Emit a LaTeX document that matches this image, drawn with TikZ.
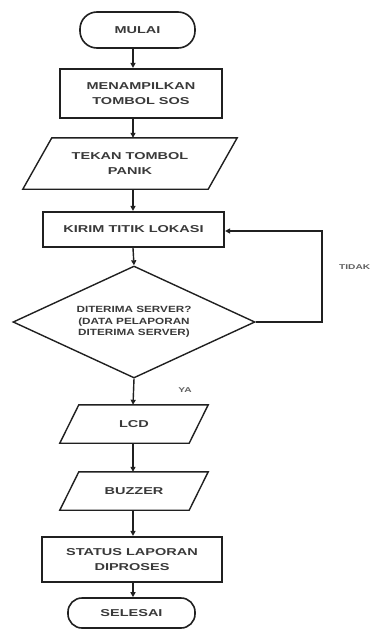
\documentclass[tikz,border=0pt]{standalone}
\usepackage{fontspec}
\newfontfamily\ffa[FakeStretch=1.45]{Liberation Sans}
\newfontfamily\ffd[FakeStretch=1.3]{Liberation Sans}
\usetikzlibrary{arrows.meta,shapes.geometric,calc}
\definecolor{txt}{HTML}{3A3A3A}
\definecolor{ln}{HTML}{202020}
\tikzset{
  lbl/.style={font=\ffa\bfseries\fontsize{10}{15.5}\selectfont, text=txt, align=center, inner sep=0pt},
  procbox/.style={lbl, draw=ln, line width=2.2pt},
  termbox/.style={lbl, draw=ln, line width=1.6pt},
  iobox/.style={lbl},
  iopath/.style={draw=ln, line width=1.4pt, line join=miter},
  decbox/.style={draw=ln, line width=1.4pt, diamond, aspect=2.16, inner sep=0pt,
     font=\ffd\bfseries\fontsize{9}{11.5}\selectfont, text=txt, align=center},
  arr/.style={draw=ln, line width=1.4pt, -{Triangle[length=5pt,width=5pt]}},
  side/.style={font=\ffa\bfseries\fontsize{7}{8}\selectfont, text=txt!80, inner sep=0pt}
}
\begin{document}
\begin{tikzpicture}[x=1pt,y=-1pt]
\useasboundingbox (0,0) rectangle (374,629);
\fill[white] (0,0) rectangle (374,629);
\coordinate (ax) at (133,0);
% terminator start
\node[termbox, minimum width=115pt, minimum height=36pt, rounded corners=17pt] (m) at (137.5,30) {MULAI};
% process 1
\node[procbox, minimum width=162pt, minimum height=49pt] (r1) at (141,93.5) {MENAMPILKAN\\TOMBOL SOS};
% input 1
\node[iobox, minimum width=214pt, minimum height=51pt] (p1) at (130,163.5) {TEKAN TOMBOL\\PANIK};
\draw[iopath] ($(p1.north west)+(29,0)$) -- (p1.north east) -- ($(p1.south east)-(29,0)$) -- (p1.south west) -- cycle;
% process 2
\node[procbox, minimum width=181pt, minimum height=35pt] (r2) at (133.5,229.5) {KIRIM TITIK LOKASI};
% decision
\node[decbox, minimum width=242pt, minimum height=112pt] (d) at (134,322) {DITERIMA SERVER?\\(DATA PELAPORAN\\DITERIMA SERVER)};
% LCD
\node[iobox, minimum width=148pt, minimum height=38pt] (lcd) at (134,424) {LCD};
\draw[iopath] ($(lcd.north west)+(19,0)$) -- (lcd.north east) -- ($(lcd.south east)-(19,0)$) -- (lcd.south west) -- cycle;
% BUZZER
\node[iobox, minimum width=148pt, minimum height=38pt] (bz) at (134,491) {BUZZER};
\draw[iopath] ($(bz.north west)+(19,0)$) -- (bz.north east) -- ($(bz.south east)-(19,0)$) -- (bz.south west) -- cycle;
% process 3
\node[procbox, minimum width=180pt, minimum height=45pt] (r3) at (132,559.5) {STATUS LAPORAN\\DIPROSES};
% terminator end
\node[termbox, minimum width=127pt, minimum height=30pt, rounded corners=14pt] (s) at (131.5,613) {SELESAI};
% connectors
\draw[arr] (ax |- m.south) -- (ax |- r1.north);
\draw[arr] (ax |- r1.south) -- (ax |- p1.north);
\draw[arr] (ax |- p1.south) -- (ax |- r2.north);
\draw[arr] (ax |- r2.south) -- (d.north);
\draw[arr] (d.south) -- (ax |- lcd.north);
\draw[arr] (ax |- lcd.south) -- (ax |- bz.north);
\draw[arr] (ax |- bz.south) -- (ax |- r3.north);
\draw[arr] (ax |- r3.south) -- (ax |- s.north);
\coordinate (lp) at (322,231);
\draw[arr] (d.east) -| (lp) -- (r2.east |- lp);
% labels
\node[side] (ya) at (185,390) {YA};
\node[side, anchor=west] (tidak) at (339,267) {TIDAK};
\end{tikzpicture}
\end{document}
